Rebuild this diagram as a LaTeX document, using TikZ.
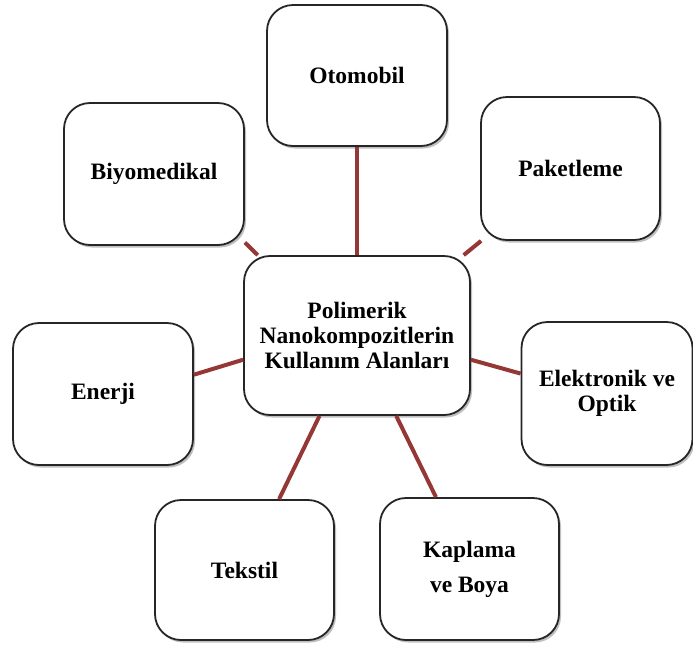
\documentclass[tikz,border=0pt]{standalone}
\usepackage{fontspec}
\setmainfont{Liberation Serif}
\usetikzlibrary{shadows}
\definecolor{linkred}{HTML}{953735}
\begin{document}
\begin{tikzpicture}[x=1pt,y=-1pt,
  areabox/.style={draw=black!85, line width=1.8pt, rounded corners=26pt, fill=white,
    align=center, inner sep=0pt,
    font=\fontsize{23.5}{25}\selectfont\bfseries,
    drop shadow={shadow xshift=2pt, shadow yshift=-2.5pt, opacity=0.25, fill=black}},
  link/.style={draw=linkred, line width=4pt}]
\useasboundingbox (0,0) rectangle (693,646);
% central topic
\node[areabox, minimum width=226pt, minimum height=159pt] (hub) at (357,335.5)
  {Polimerik\\Nanokompozitlerin\\Kullanım Alanları};
% application areas
\node[areabox, minimum width=180pt, minimum height=141pt] (oto) at (357,75.5) {Otomobil};
\node[areabox, minimum width=180pt, minimum height=142pt] (biyo) at (154,174) {Biyomedikal};
\node[areabox, minimum width=179pt, minimum height=143pt] (paket) at (570.5,168.5) {Paketleme};
\node[areabox, minimum width=180pt, minimum height=142pt] (enerji) at (103,394) {Enerji};
\node[areabox, minimum width=171pt, minimum height=143pt] (elek) at (607,393.5) {Elektronik ve\\Optik};
\node[areabox, minimum width=179pt, minimum height=140pt] (tekstil) at (244.5,570) {Tekstil};
\node[areabox, minimum width=179pt, minimum height=142pt, font=\fontsize{23.5}{35}\selectfont\bfseries] (kaplama) at (469.5,569) {Kaplama\\ve Boya};
% connectors
\draw[link] (oto.south) -- (hub.north);
\draw[link] (biyo.-37.5) -- (hub.141);
\draw[link] (paket.-141.4) -- (hub.37.7);
\draw[link] (enerji.12.5) -- (hub.192.2);
\draw[link] (elek.167.2) -- (hub.-12.2);
\draw[link] (tekstil.64.4) -- (hub.-115.3);
\draw[link] (kaplama.115.3) -- (hub.-64.2);
\end{tikzpicture}
\end{document}
